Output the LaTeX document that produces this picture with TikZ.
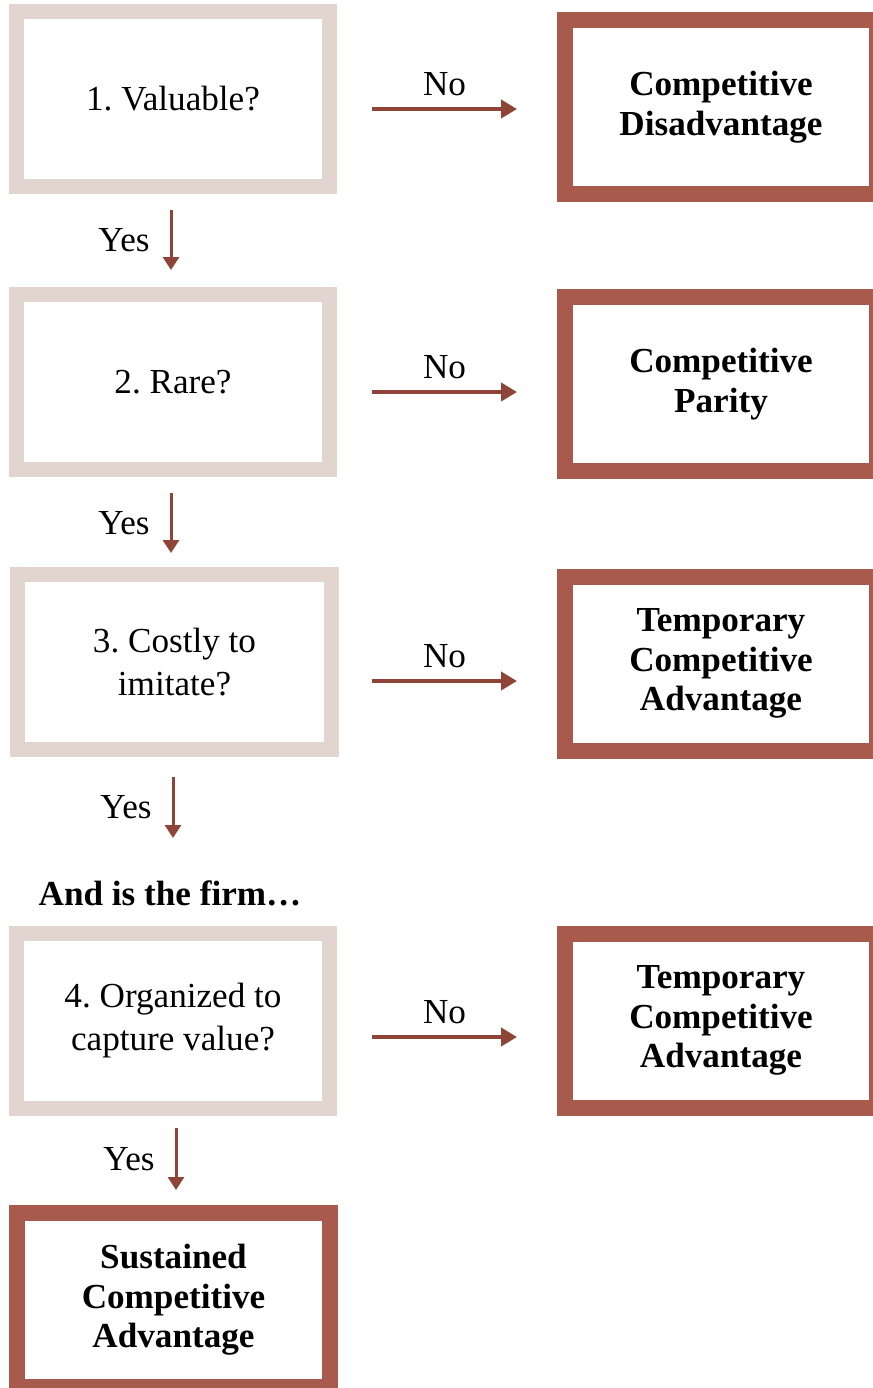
\documentclass[tikz,border=0pt]{standalone}
\usepackage{fontspec}
\setmainfont{Liberation Serif}
\usetikzlibrary{arrows.meta}
\definecolor{beige}{HTML}{E2D5CF}
\definecolor{brick}{HTML}{A85A4C}
\definecolor{arrowred}{HTML}{8E4437}
\frenchspacing

\begin{document}
\begin{tikzpicture}
      [%%%%%%%%%%%%%%%%%%%%%%%%%%%%%%
      x=0.2mm,y=-0.2mm,
      question/.style={rectangle,draw=beige,line width=3mm,minimum width=62.6mm,minimum height=35mm,inner sep=0pt,align=center,font=\fontsize{20}{24}\selectfont},
      outcome/.style={rectangle,draw=brick,line width=3.2mm,minimum width=62.4mm,minimum height=34.8mm,inner sep=0pt,align=center,font=\fontsize{20}{22.5}\selectfont\bfseries},
      noarrow/.style={draw=arrowred,line width=0.9mm,-{Triangle[length=3.2mm,width=3.6mm]}},
      yesarrow/.style={draw=arrowred,line width=0.6mm,-{Triangle[length=2.6mm,width=3.2mm]}},
      lbl/.style={font=\fontsize{20}{24}\selectfont},
      ]%%%%%%%%%%%%%%%%%%%%%%%%%%%%%%

      \clip (0,0) rectangle (873,1388);

      \node[question] (q1) at (173,98.5) {1. Valuable?};
      \node[question] (q2) at (173,382) {2. Rare?};
      \node[question] (q3) at (174.5,662) {3. Costly to\\imitate?};
      \node[question] (q4) at (173,1020.5) {4. Organized to\\capture value?};

      \node[outcome] (r1) at (721,107) {Competitive\\Disadvantage};
      \node[outcome] (r2) at (721,384) {Competitive\\Parity};
      \node[outcome] (r3) at (721,663.5) {Temporary\\Competitive\\Advantage};
      \node[outcome] (r4) at (721,1020.5) {Temporary\\Competitive\\Advantage};

      \node[outcome] (sca) at (173.5,1300) {Sustained\\Competitive\\Advantage};

      \node[lbl,font=\fontsize{20}{24}\selectfont\bfseries] (firm) at (170,893) {And is the firm…};

      \foreach \r/\y in {1/109,2/392,3/681,4/1037}{
        \coordinate (no\r a) at (372,\y);
        \coordinate (no\r b) at (517,\y);
        \draw[noarrow] (no\r a) -- node[lbl,above=3pt]{No} (no\r b);
      }

      \foreach \r/\x/\ya/\yb in {1/171/210/270,2/171/493/553,3/173/777/838,4/176/1128/1190}{
        \coordinate (yes\r a) at (\x,\ya);
        \coordinate (yes\r b) at (\x,\yb);
        \draw[yesarrow] (yes\r a) -- node[lbl,left=8pt]{Yes} (yes\r b);
      }
\end{tikzpicture}
\end{document}
